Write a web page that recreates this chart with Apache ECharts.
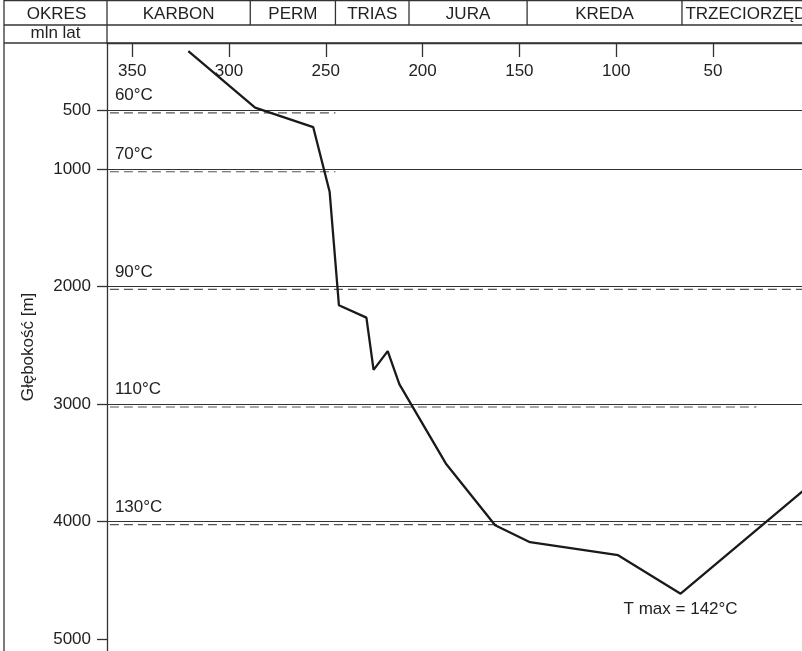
<!DOCTYPE html>
<html>
<head>
<meta charset="utf-8">
<style>
  html, body { margin: 0; padding: 0; background: #fff; }
  #main { width: 802px; height: 651px; }
</style>
<script src="https://cdn.jsdelivr.net/npm/echarts@6/dist/echarts.min.js"></script>
</head>
<body>
<div id="main"></div>
<script>
// burial history: age [mln lat] vs depth [m]
const burialAge = [321, 286.5, 256.5, 248, 243.2, 229, 225.3, 218, 212, 188, 162.5, 144.5, 99, 66.7, 0];
const burialDepth = [0, 480, 645, 1195, 2160, 2265, 2710, 2550, 2830, 3505, 4030, 4175, 4285, 4613, 3690];

// isotherms (dashed) and reference depths (solid)
const isoLabels = ["60°C", "70°C", "90°C", "110°C", "130°C"];
const isoDepth = [525, 1025, 2025, 3025, 4025];
const isoFrom = [361.5, 361.5, 361.5, 361.5, 361.5];
const isoTo = [245, 245, 0, 27.5, 0];
const refDepth = [500, 1000, 2000, 3000, 4000];

const ageTicks = [350, 300, 250, 200, 150, 100, 50];
const depthTicks = [500, 1000, 2000, 3000, 4000, 5000];

const periodNames = ["KARBON", "PERM", "TRIAS", "JURA", "KREDA", "TRZECIORZĘD"];
const periodStart = [363, 289, 245, 207, 146, 66];
const periodEnd = [289, 245, 207, 146, 66, 0];

const tMax = { age: 66.7, depth: 4613, text: "T max = 142°C" };

const FONT = "'Liberation Sans', Arial, sans-serif";
const INK = "#222";
const LINE = "#333";

const chart = echarts.init(document.getElementById("main"));

const series = [
  {
    type: "line",
    data: burialAge.map((a, i) => [a, burialDepth[i]]),
    symbol: "none",
    lineStyle: { color: "#1a1a1a", width: 2.3 },
    z: 5,
    markLine: {
      silent: true,
      symbol: "none",
      label: { show: false },
      lineStyle: { color: LINE, width: 1.2, type: "solid" },
      data: refDepth.map((d) => ({ yAxis: d })),
    },
    markPoint: {
      symbol: "circle",
      symbolSize: 0,
      label: {
        show: true,
        position: "bottom",
        distance: 7,
        formatter: tMax.text,
        color: INK,
        fontSize: 17,
        fontFamily: FONT,
      },
      data: [{ coord: [tMax.age, tMax.depth] }],
    },
  },
];

isoDepth.forEach((d, i) => {
  series.push({
    type: "line",
    data: [[isoFrom[i], d], [isoTo[i], d]],
    symbol: "none",
    silent: true,
    lineStyle: { color: "#555", width: 1.2, type: [9, 5] },
    z: 3,
  });
});

chart.setOption({
  animation: false,
  grid: { left: 107, right: 0, top: 43, bottom: 0 },
  xAxis: {
    type: "value",
    inverse: true,
    min: 4,
    max: 363,
    position: "top",
    axisLine: { show: true, onZero: false, lineStyle: { color: LINE, width: 1.3 } },
    axisTick: { inside: true, length: 14, customValues: ageTicks, lineStyle: { color: LINE, width: 1.3 } },
    axisLabel: { inside: true, margin: 20, customValues: ageTicks, color: INK, fontSize: 17, fontFamily: FONT },
    splitLine: { show: false },
  },
  yAxis: {
    type: "value",
    inverse: true,
    min: -70,
    max: 5100,
    name: "Głębokość [m]",
    nameLocation: "middle",
    nameRotate: 90,
    nameGap: 70,
    nameTextStyle: { color: INK, fontSize: 17, fontFamily: FONT },
    axisLine: { show: true, onZero: false, lineStyle: { color: LINE, width: 1.3 } },
    axisTick: { length: 10, customValues: depthTicks, lineStyle: { color: LINE, width: 1.3 } },
    axisLabel: {
      margin: 16,
      customValues: depthTicks,
      formatter: (v) => String(v),
      color: INK,
      fontSize: 17,
      fontFamily: FONT,
    },
    splitLine: { show: false },
  },
  series: series,
});

// header table and isotherm labels, placed through the axes
const px = (age, depth) => chart.convertToPixel({ gridIndex: 0 }, [age, depth]);
const W = 802, H = 651;
const ROW1 = 25, ROW2 = 43;
const axisX = px(363, 0)[0];
const lineStyle = { stroke: LINE, lineWidth: 1.3 };
const graphic = [];

function hline(y, x1, x2) {
  graphic.push({ type: "line", shape: { x1: x1, y1: y, x2: x2, y2: y }, style: lineStyle, silent: true });
}
function vline(x, y1, y2) {
  graphic.push({ type: "line", shape: { x1: x, y1: y1, x2: x, y2: y2 }, style: lineStyle, silent: true });
}
function text(str, x, y, align) {
  graphic.push({
    type: "text",
    x: x,
    y: y,
    style: { text: str, fill: INK, font: "17px " + FONT, textAlign: align || "center", textVerticalAlign: "middle" },
    silent: true,
  });
}

hline(0.5, 4, W);
hline(ROW1, 4, W);
hline(ROW2, 4, W);
vline(4, 0, H);
vline(axisX, 0, ROW2);
text("OKRES", (4 + axisX) / 2 + 1, 14);
text("mln lat", (4 + axisX) / 2, 33);

periodNames.forEach((name, i) => {
  const x1 = px(periodStart[i], 0)[0];
  const x2 = px(periodEnd[i], 0)[0];
  if (i > 0) vline(x1, 0, ROW1);
  text(name, (x1 + x2) / 2, 14);
});

isoLabels.forEach((lab, i) => {
  const p = px(isoFrom[i], refDepth[i]);
  text(lab, p[0] + 5, p[1] - 14.5, "left");
});

chart.setOption({ graphic: graphic });
</script>
</body>
</html>
